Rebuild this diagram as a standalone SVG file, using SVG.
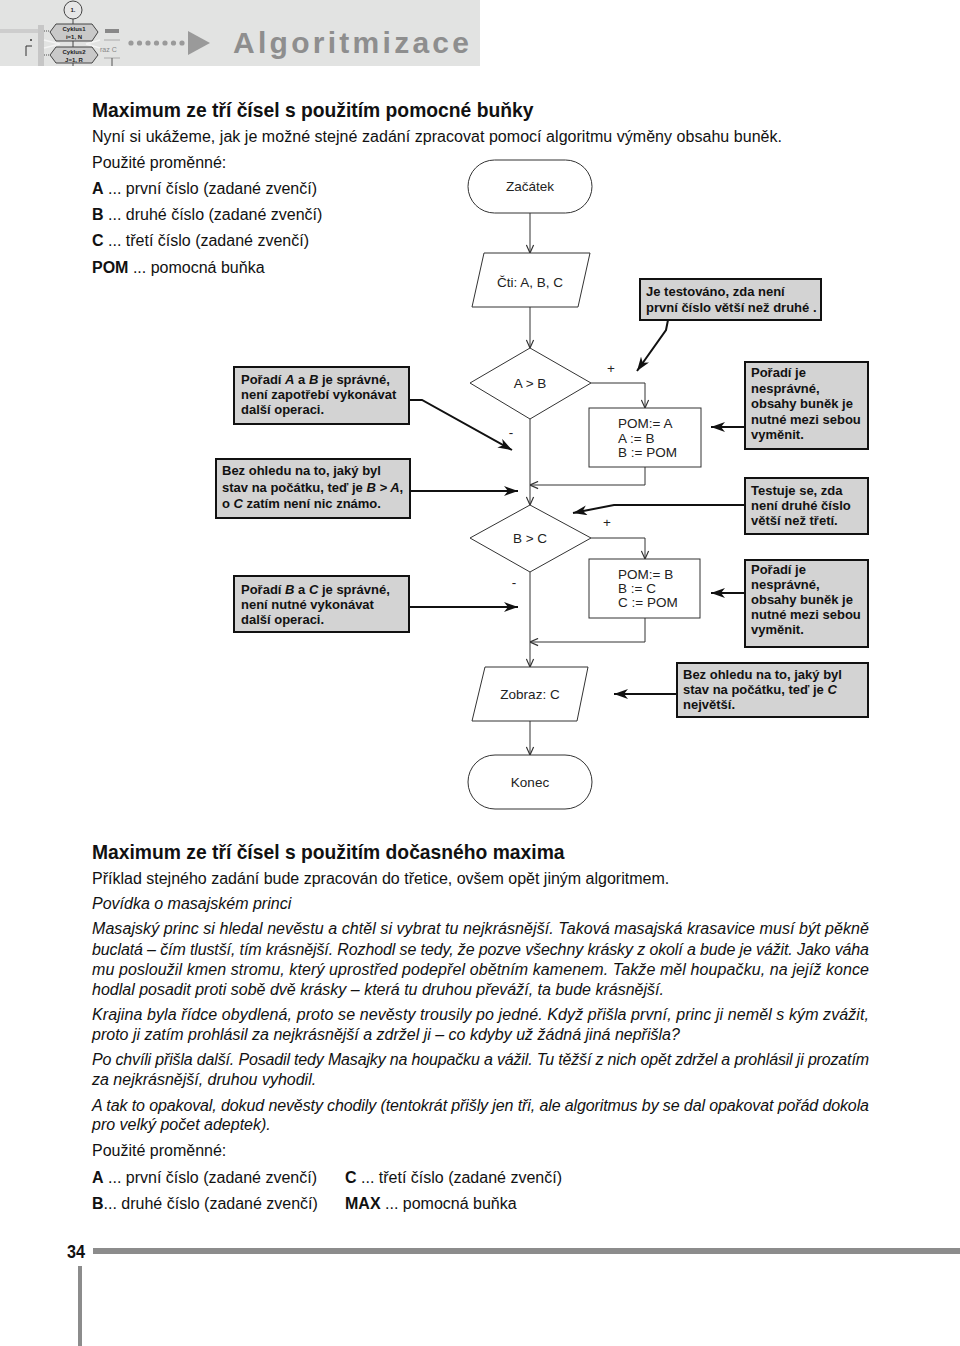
<svg xmlns="http://www.w3.org/2000/svg" width="960" height="1346" viewBox="0 0 960 1346">
<style>
text{font-family:"Liberation Sans",Arial,sans-serif;fill:#111}
.body{font-size:16px}
.it{font-size:16px;font-style:italic}
.h1{font-size:19.3px;font-weight:bold}
.fc{font-size:13.5px;text-anchor:middle;fill:#222}
.fl{font-size:13.5px;fill:#222}
.ann{font-size:13px;font-weight:bold}
.node{fill:#fff;stroke:#333;stroke-width:1}
.box{fill:#d3d3d3;stroke:#111;stroke-width:2}
.flow{fill:none;stroke:#333;stroke-width:1;marker-end:url(#fa)}
.flown{fill:none;stroke:#333;stroke-width:1}
.lead{fill:none;stroke:#111;stroke-width:2;marker-end:url(#la)}
.hx{fill:#c9c9c9;stroke:#444;stroke-width:1}
.tiny{font-size:6px;text-anchor:middle;fill:#222;font-weight:bold}
</style>
<defs>
<marker id="fa" viewBox="0 0 10 10" refX="10" refY="5" markerWidth="9" markerHeight="9" markerUnits="userSpaceOnUse" orient="auto"><path d="M1,1 L10,5 L1,9" fill="none" stroke="#333" stroke-width="1.3"/></marker>
<marker id="la" viewBox="0 0 14 10" refX="14" refY="5" markerWidth="14" markerHeight="10" markerUnits="userSpaceOnUse" orient="auto"><path d="M0,0 L14,5 L0,10 L4,5 z" fill="#111"/></marker>
</defs>
<rect width="960" height="1346" fill="#fff"/>

<!-- header -->
<g id="header">
<rect x="0" y="0" width="480" height="66" fill="#e2e3e2"/>
<rect x="0" y="29" width="40" height="4" fill="#cdcdcd"/>
<rect x="38" y="25" width="6" height="41" fill="#c6c6c6"/>
<path d="M26,56 L26,46 L32,46" fill="none" stroke="#333" stroke-width="1"/>
<circle cx="31" cy="40" r="1" fill="#333"/>
<line x1="73" y1="19" x2="73" y2="66" stroke="#444" stroke-width="1"/>
<circle cx="73" cy="10" r="9" fill="#e6e6e6" stroke="#444" stroke-width="1"/>
<text x="73" y="12" class="tiny">1.</text>
<path d="M44,31 L50,31 M44,55 L50,55" stroke="#555" stroke-dasharray="1,1"/>
<path d="M44,40 L60,44 M44,48 L60,44 M86,44 L100,40 M86,44 L100,48" stroke="#f4f4f4" stroke-width="1.5"/>
<polygon class="hx" points="50,32 56,24 92,24 98,32 92,41 56,41"/>
<text x="74" y="31" class="tiny">Cyklus1</text>
<text x="74" y="38.5" class="tiny">i=1, N</text>
<polygon class="hx" points="50,55 56,47 92,47 98,55 92,63 56,63"/>
<text x="74" y="54" class="tiny">Cyklus2</text>
<text x="74" y="61.5" class="tiny">J=1, R</text>
<rect x="105" y="29" width="14" height="4" fill="#888"/>
<line x1="104" y1="40" x2="120" y2="40" stroke="#aaa"/>
<line x1="104" y1="58" x2="120" y2="58" stroke="#aaa"/>
<text x="100" y="52" font-size="7px" style="fill:#888">raz C</text>
<line x1="112" y1="58" x2="112" y2="66" stroke="#555"/>
<g fill="#9a9a9a">
<circle cx="131" cy="43" r="2.6"/><circle cx="139.5" cy="43" r="2.6"/><circle cx="148" cy="43" r="2.6"/><circle cx="156.5" cy="43" r="2.6"/><circle cx="165" cy="43" r="2.6"/><circle cx="173.5" cy="43" r="2.6"/><circle cx="182" cy="43" r="2.6"/>
<polygon points="188,31 188,55 210,43"/>
</g>
<text x="233" y="53" font-size="30px" font-weight="bold" textLength="236" lengthAdjust="spacing" style="fill:#8e8e8e">Algoritmizace</text>
</g>

<!-- upper text -->
<g id="intro">
<text x="92" y="117" class="h1">Maximum ze tří čísel s použitím pomocné buňky</text>
<text x="92" y="142" class="body" textLength="690" lengthAdjust="spacing">Nyní si ukážeme, jak je možné stejné zadání zpracovat pomocí algoritmu výměny obsahu buněk.</text>
<text x="92" y="168" class="body">Použité proměnné:</text>
<text x="92" y="194" class="body"><tspan font-weight="bold">A</tspan> ... první číslo (zadané zvenčí)</text>
<text x="92" y="220" class="body"><tspan font-weight="bold">B</tspan> ... druhé číslo (zadané zvenčí)</text>
<text x="92" y="246" class="body"><tspan font-weight="bold">C</tspan> ... třetí číslo (zadané zvenčí)</text>
<text x="92" y="273" class="body"><tspan font-weight="bold">POM</tspan> ... pomocná buňka</text>
</g>

<!-- connectors -->
<g id="connectors">
<path class="flow" d="M530,213 L530,253"/>
<path class="flow" d="M530,307 L530,348"/>
<path class="flow" d="M591,383 L645,383 L645,408"/>
<path class="flow" d="M530,419 L530,505"/>
<path class="flow" d="M645,467 L645,485 L530,485"/>
<path class="flow" d="M591,538 L645,538 L645,559"/>
<path class="flow" d="M530,572 L530,667"/>
<path class="flow" d="M645,618 L645,642 L530,642"/>
<path class="flow" d="M530,721 L530,755"/>
<text x="611" y="373" class="fc">+</text>
<text x="511" y="437" class="fc">-</text>
<text x="607" y="527" class="fc">+</text>
<text x="514" y="587" class="fc">-</text>
<path class="lead" d="M668,320 L666,330 L637,371"/>
<path class="lead" d="M745,427 L711,427"/>
<path class="lead" d="M409,400 L422,400 L512,450"/>
<path class="lead" d="M410,491 L518,491"/>
<path class="lead" d="M745,505 L614,505 L573,513"/>
<path class="lead" d="M745,593 L711,593"/>
<path class="lead" d="M410,607 L518,607"/>
<path class="lead" d="M677,694 L614,694"/>
</g>

<!-- flowchart nodes -->
<g id="start">
<rect class="node" x="468" y="160" width="124" height="53" rx="26.5"/>
<text x="530" y="191" class="fc">Začátek</text>
</g>
<g id="read">
<polygon class="node" points="484,253 590,253 578,307 472,307"/>
<text x="530" y="287" class="fc">Čti: A, B, C</text>
</g>
<g id="cond1">
<polygon class="node" points="530,348 591,383 530,419 470,383"/>
<text x="530" y="388" class="fc">A &gt; B</text>
</g>
<g id="swap1">
<rect class="node" x="589" y="408" width="112" height="59"/>
<text x="618" y="428" class="fl">POM:= A</text>
<text x="618" y="443" class="fl">A := B</text>
<text x="618" y="457" class="fl">B := POM</text>
</g>
<g id="cond2">
<polygon class="node" points="530,505 591,538 530,572 470,538"/>
<text x="530" y="543" class="fc">B &gt; C</text>
</g>
<g id="swap2">
<rect class="node" x="589" y="559" width="111" height="59"/>
<text x="618" y="579" class="fl">POM:= B</text>
<text x="618" y="593" class="fl">B := C</text>
<text x="618" y="607" class="fl">C := POM</text>
</g>
<g id="show">
<polygon class="node" points="485,667 588,667 577,721 472,721"/>
<text x="530" y="699" class="fc">Zobraz: C</text>
</g>
<g id="end">
<rect class="node" x="468" y="755" width="124" height="54" rx="27"/>
<text x="530" y="787" class="fc">Konec</text>
</g>

<!-- annotations -->
<g id="note-test1">
<rect class="box" x="640" y="279" width="181" height="41"/>
<text x="646" y="296" class="ann">Je testováno, zda není</text>
<text x="646" y="312" class="ann">první číslo větší než druhé .</text>
</g>
<g id="note-wrong1">
<rect class="box" x="745" y="362" width="123" height="87"/>
<text x="751" y="377" class="ann">Pořadí je</text>
<text x="751" y="393" class="ann">nesprávné,</text>
<text x="751" y="408" class="ann">obsahy buněk je</text>
<text x="751" y="424" class="ann">nutné mezi sebou</text>
<text x="751" y="439" class="ann">vyměnit.</text>
</g>
<g id="note-ok1">
<rect class="box" x="234" y="367" width="175" height="57"/>
<text x="241" y="384" class="ann">Pořadí <tspan font-style="italic">A</tspan> a <tspan font-style="italic">B</tspan> je správné,</text>
<text x="241" y="399" class="ann">není zapotřebí vykonávat</text>
<text x="241" y="414" class="ann">další operaci.</text>
</g>
<g id="note-state1">
<rect class="box" x="216" y="459" width="194" height="59"/>
<text x="222" y="475" class="ann">Bez ohledu na to, jaký byl</text>
<text x="222" y="492" class="ann">stav na počátku, teď je <tspan font-style="italic">B &gt; A</tspan>,</text>
<text x="222" y="508" class="ann">o <tspan font-style="italic">C</tspan> zatím není nic známo.</text>
</g>
<g id="note-test2">
<rect class="box" x="745" y="478" width="123" height="56"/>
<text x="751" y="495" class="ann">Testuje se, zda</text>
<text x="751" y="510" class="ann">není druhé číslo</text>
<text x="751" y="525" class="ann">větší než třetí.</text>
</g>
<g id="note-wrong2">
<rect class="box" x="745" y="560" width="123" height="87"/>
<text x="751" y="574" class="ann">Pořadí je</text>
<text x="751" y="589" class="ann">nesprávné,</text>
<text x="751" y="604" class="ann">obsahy buněk je</text>
<text x="751" y="619" class="ann">nutné mezi sebou</text>
<text x="751" y="634" class="ann">vyměnit.</text>
</g>
<g id="note-ok2">
<rect class="box" x="234" y="576" width="175" height="56"/>
<text x="241" y="594" class="ann">Pořadí <tspan font-style="italic">B</tspan> a <tspan font-style="italic">C</tspan> je správné,</text>
<text x="241" y="609" class="ann">není nutné vykonávat</text>
<text x="241" y="624" class="ann">další operaci.</text>
</g>
<g id="note-result">
<rect class="box" x="677" y="663" width="191" height="54"/>
<text x="683" y="679" class="ann">Bez ohledu na to, jaký byl</text>
<text x="683" y="694" class="ann">stav na počátku, teď je <tspan font-style="italic">C</tspan></text>
<text x="683" y="709" class="ann">největší.</text>
</g>

<!-- lower text -->
<g id="second">
<text x="92" y="859" class="h1">Maximum ze tří čísel s použitím dočasného maxima</text>
<text x="92" y="884" class="body">Příklad stejného zadání bude zpracován do třetice, ovšem opět jiným algoritmem.</text>
<text x="92" y="909" class="it">Povídka o masajském princi</text>
<text x="92" y="934" class="it" textLength="777" lengthAdjust="spacing">Masajský princ si hledal nevěstu a chtěl si vybrat tu nejkrásnější. Taková masajská krasavice musí být pěkně</text>
<text x="92" y="955" class="it" textLength="777" lengthAdjust="spacing">buclatá – čím tlustší, tím krásnější. Rozhodl se tedy, že pozve všechny krásky z okolí a bude je vážit. Jako váha</text>
<text x="92" y="975" class="it" textLength="777" lengthAdjust="spacing">mu posloužil kmen stromu, který uprostřed podepřel obětním kamenem. Takže měl houpačku, na jejíž konce</text>
<text x="92" y="995" class="it">hodlal posadit proti sobě dvě krásky –  která tu druhou převáží, ta bude krásnější.</text>
<text x="92" y="1020" class="it" textLength="777" lengthAdjust="spacing">Krajina byla řídce obydlená, proto se nevěsty trousily po jedné. Když přišla první, princ ji neměl s kým zvážit,</text>
<text x="92" y="1040" class="it">proto ji zatím prohlásil za nejkrásnější a zdržel ji – co kdyby už žádná jiná nepřišla?</text>
<text x="92" y="1065" class="it" textLength="777" lengthAdjust="spacing">Po chvíli přišla další. Posadil tedy Masajky na houpačku a vážil. Tu těžší z nich opět zdržel a prohlásil ji prozatím</text>
<text x="92" y="1085" class="it">za nejkrásnější, druhou vyhodil.</text>
<text x="92" y="1111" class="it" textLength="777" lengthAdjust="spacing">A tak to opakoval, dokud nevěsty chodily (tentokrát přišly jen tři, ale algoritmus by se dal opakovat pořád dokola</text>
<text x="92" y="1130" class="it">pro velký počet adeptek).</text>
<text x="92" y="1156" class="body">Použité proměnné:</text>
<text x="92" y="1183" class="body"><tspan font-weight="bold">A</tspan> ... první číslo (zadané zvenčí)</text>
<text x="345" y="1183" class="body"><tspan font-weight="bold">C</tspan> ... třetí číslo (zadané zvenčí)</text>
<text x="92" y="1209" class="body"><tspan font-weight="bold">B</tspan>... druhé číslo (zadané zvenčí)</text>
<text x="345" y="1209" class="body"><tspan font-weight="bold">MAX</tspan> ... pomocná buňka</text>
</g>

<!-- footer -->
<g id="footer">
<text x="67" y="1258" font-size="19px" font-weight="bold" textLength="18" lengthAdjust="spacingAndGlyphs">34</text>
<rect x="93" y="1248" width="867" height="6" fill="#8c8c8c"/>
<rect x="78" y="1266" width="4" height="80" fill="#8c8c8c"/>
</g>
</svg>
